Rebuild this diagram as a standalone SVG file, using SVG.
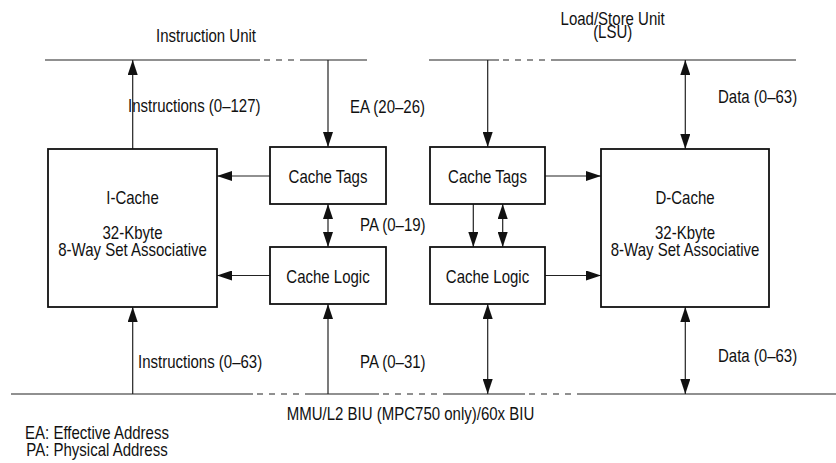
<svg xmlns="http://www.w3.org/2000/svg" width="836" height="463" viewBox="0 0 836 463">
<style>
text{font-family:"Liberation Sans",Arial,sans-serif;font-size:18.3px;fill:#111}
.c{text-anchor:middle}
.box{fill:#fff;stroke:#111;stroke-width:1.8}
.ln{stroke:#222;stroke-width:1.2;fill:none}
.ds{stroke:#222;stroke-width:1.2;fill:none;stroke-dasharray:6,6}
.a{marker-end:url(#ah)}
.b{marker-end:url(#ah);marker-start:url(#ah)}
</style>
<defs>
<marker id="ah" markerUnits="userSpaceOnUse" markerWidth="16" markerHeight="10" refX="15" refY="5" orient="auto-start-reverse">
<path d="M0,0 L15,5 L0,10 z" fill="#111"/>
</marker>
</defs>
<rect width="836" height="463" fill="#fff"/>
<g id="buses">
<line class="ln" x1="45" y1="60" x2="260" y2="60"/>
<line class="ds" x1="264" y1="60" x2="305" y2="60"/>
<line class="ln" x1="305" y1="60" x2="367" y2="60"/>
<line class="ln" x1="429" y1="60" x2="499" y2="60"/>
<line class="ds" x1="503" y1="60" x2="554" y2="60"/>
<line class="ln" x1="554" y1="60" x2="796" y2="60"/>
<line class="ln" x1="11" y1="394" x2="253" y2="394"/>
<line class="ds" x1="257" y1="394" x2="308" y2="394"/>
<line class="ln" x1="308" y1="394" x2="379" y2="394"/>
<line class="ds" x1="383" y1="394" x2="443" y2="394"/>
<line class="ln" x1="443" y1="394" x2="525" y2="394"/>
<line class="ds" x1="529" y1="394" x2="579" y2="394"/>
<line class="ln" x1="579" y1="394" x2="836" y2="394"/>
</g>
<g id="connectors">
<line class="ln a" x1="132.7" y1="149" x2="132.7" y2="60"/>
<line class="ln a" x1="328" y1="60" x2="328" y2="147"/>
<line class="ln a" x1="270" y1="176" x2="217" y2="176"/>
<line class="ln a" x1="270" y1="275.5" x2="217" y2="275.5"/>
<line class="ln b" x1="328" y1="204" x2="328" y2="247"/>
<line class="ln a" x1="487.7" y1="60" x2="487.7" y2="147"/>
<line class="ln a" x1="545" y1="176" x2="601" y2="176"/>
<line class="ln a" x1="545" y1="275.5" x2="601" y2="275.5"/>
<line class="ln a" x1="473.3" y1="204" x2="473.3" y2="247"/>
<line class="ln b" x1="502.7" y1="204" x2="502.7" y2="247"/>
<line class="ln b" x1="685.3" y1="60" x2="685.3" y2="149"/>
<line class="ln a" x1="132.7" y1="394" x2="132.7" y2="307"/>
<line class="ln a" x1="328" y1="394" x2="328" y2="304"/>
<line class="ln b" x1="487.7" y1="304" x2="487.7" y2="394"/>
<line class="ln b" x1="685.3" y1="307" x2="685.3" y2="394"/>
</g>
<g id="icache">
<rect class="box" x="48" y="149" width="169" height="158"/>
<text class="c" transform="translate(132.5,204) scale(0.82,1)">I-Cache</text>
<text class="c" transform="translate(132.5,239) scale(0.82,1)">32-Kbyte</text>
<text class="c" transform="translate(132.5,256) scale(0.82,1)">8-Way Set Associative</text>
</g>
<g id="itags">
<rect class="box" x="270" y="147" width="116" height="57"/>
<text class="c" transform="translate(328,182.5) scale(0.82,1)">Cache Tags</text>
</g>
<g id="ilogic">
<rect class="box" x="270" y="247" width="116" height="57"/>
<text class="c" transform="translate(328,282.5) scale(0.82,1)">Cache Logic</text>
</g>
<g id="dtags">
<rect class="box" x="430" y="147" width="115" height="57"/>
<text class="c" transform="translate(487.5,182.5) scale(0.82,1)">Cache Tags</text>
</g>
<g id="dlogic">
<rect class="box" x="430" y="247" width="115" height="57"/>
<text class="c" transform="translate(487.5,282.5) scale(0.82,1)">Cache Logic</text>
</g>
<g id="dcache">
<rect class="box" x="601" y="149" width="168" height="158"/>
<text class="c" transform="translate(685,204) scale(0.82,1)">D-Cache</text>
<text class="c" transform="translate(685,239) scale(0.82,1)">32-Kbyte</text>
<text class="c" transform="translate(685,256) scale(0.82,1)">8-Way Set Associative</text>
</g>
<g id="labels">
<text class="c" transform="translate(206,41.5) scale(0.82,1)">Instruction Unit</text>
<text class="c" transform="translate(612.7,24.5) scale(0.82,1)">Load/Store Unit</text>
<text class="c" transform="translate(612.7,38) scale(0.82,1)">(LSU)</text>
<text transform="translate(128,112) scale(0.82,1)">Instructions (0–127)</text>
<text transform="translate(350,113) scale(0.82,1)">EA (20–26)</text>
<text transform="translate(718,103) scale(0.82,1)">Data (0–63)</text>
<text transform="translate(360,231) scale(0.82,1)">PA (0–19)</text>
<text transform="translate(138,368) scale(0.82,1)">Instructions (0–63)</text>
<text transform="translate(360,368) scale(0.82,1)">PA (0–31)</text>
<text transform="translate(718,362) scale(0.82,1)">Data (0–63)</text>
<text class="c" transform="translate(410.5,420) scale(0.82,1)">MMU/L2 BIU (MPC750 only)/60x BIU</text>
<text class="c" transform="translate(97,439) scale(0.82,1)">EA: Effective Address</text>
<text class="c" transform="translate(97,456) scale(0.82,1)">PA: Physical Address</text>
</g>
</svg>
